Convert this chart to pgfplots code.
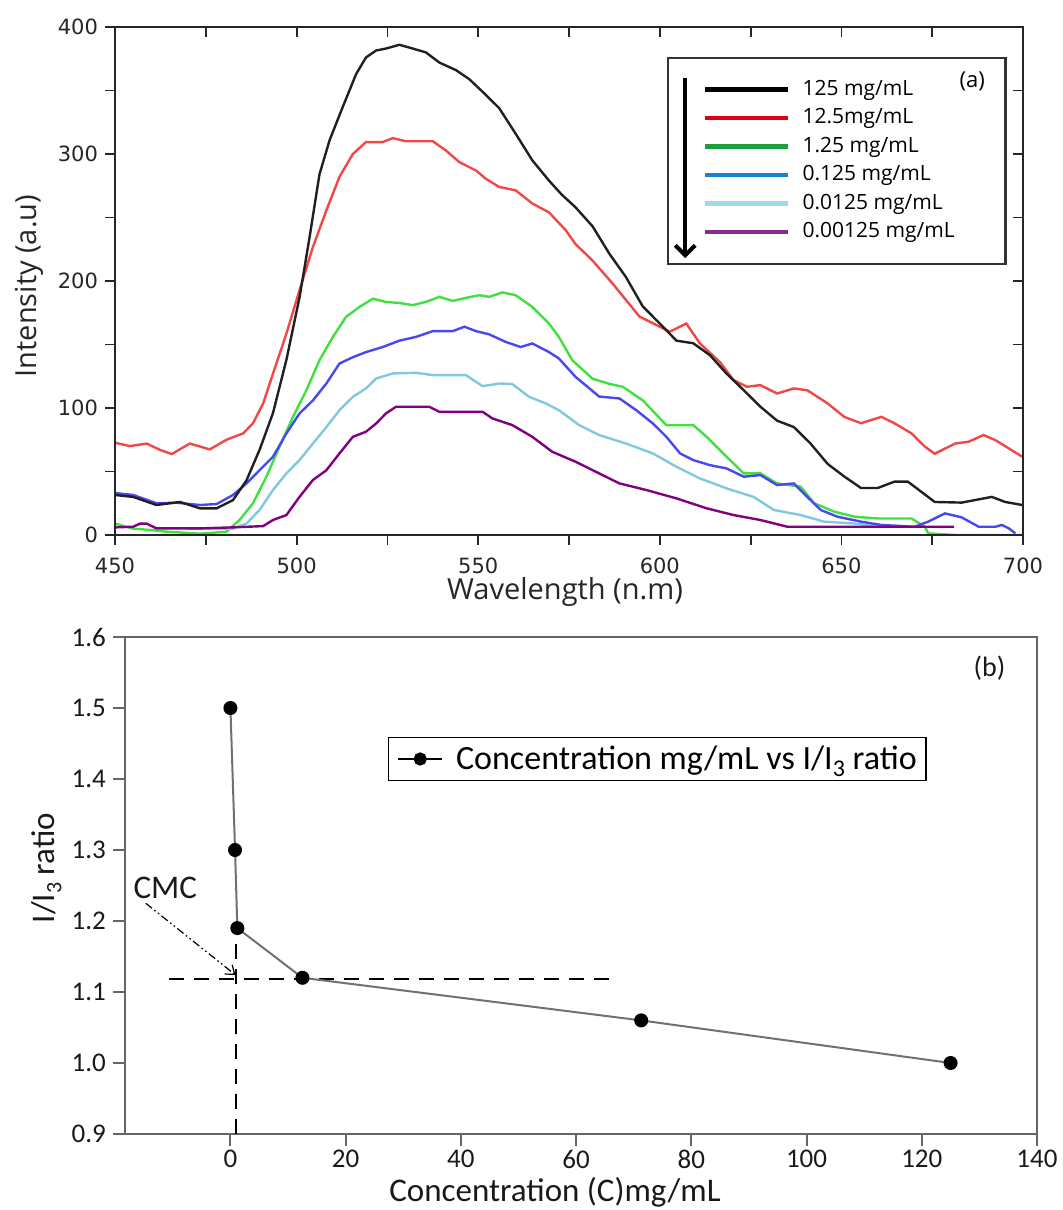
\documentclass[border=0pt]{standalone}
\usepackage{fontspec}
\usepackage{pgfplots}
\pgfplotsset{compat=1.18}
\usetikzlibrary{arrows.meta}
\newfontfamily\dejavu{DejaVu Sans}
\newfontfamily\osans{Open Sans}
\newfontfamily\carlito{Carlito}

\definecolor{cblack}{HTML}{202020}
\definecolor{cred}{HTML}{F04848}
\definecolor{cgreen}{HTML}{40E040}
\definecolor{cblue}{HTML}{4848F0}
\definecolor{clblue}{HTML}{80C8E0}
\definecolor{cpurple}{HTML}{800080}
% legend swatches are a bit different from the curves in the original
\definecolor{lred}{HTML}{E00010}
\definecolor{lgreen}{HTML}{1E9E3C}
\definecolor{lblue}{HTML}{1A80D0}
\definecolor{llblue}{HTML}{A0D8E8}
\definecolor{lpurple}{HTML}{8B2A8B}
\definecolor{ratioline}{HTML}{707070}

\begin{document}
\begin{tikzpicture}
\useasboundingbox (0,0) rectangle (531pt,605pt);

% ---------------- panel (a): emission spectra
\begin{axis}[
  at={(57.5pt,337.5pt)}, anchor=south west,
  width=454pt, height=254pt, scale only axis,
  xmin=450, xmax=700, ymin=0, ymax=400,
  xtick={450,500,...,700}, ytick={0,100,...,400},
  minor xtick={475,525,...,675}, minor ytick={50,150,...,350},
  xtick pos=left, ytick pos=left, tick align=outside,
  major tick length=5pt, minor tick length=5pt,
  tick style={black!85, line width=0.9pt},
  axis line style={black!85, line width=1pt},
  /pgf/number format/assume math mode=true,
  ticklabel style={font=\dejavu\fontsize{10.5}{12}\selectfont, text=black!85},
  xticklabel style={yshift=-3pt},
  xlabel={Wavelength (n.m)}, ylabel={Intensity (a.u)},
  label style={font=\osans\fontsize{14.5}{17}\selectfont, text=black!85, inner sep=0pt},
  xlabel style={at={(axis description cs:0.4956,-0.112)}, anchor=center},
  ylabel style={at={(axis description cs:-0.094,0.49)}, anchor=center},
  legend cell align=left,
  legend style={at={(rel axis cs:0.608,0.941)}, anchor=north west,
    draw=black!80, line width=1.1pt, fill=none,
    inner xsep=17.5pt, inner ysep=11pt, row sep=4.65pt,
    font=\osans\fontsize{10.5}{12}\selectfont,
    nodes={inner sep=0pt, text height=7.6pt, text depth=2pt},
    /tikz/every odd column/.append style={column sep=6pt}},
  legend image code/.code={\draw[#1, line width=2.2pt] (0pt,0pt) -- (41.5pt,0pt);},
]
\addlegendimage{black}\addlegendentry{\makebox[84pt][l]{125 mg/mL}}
\addlegendimage{lred}\addlegendentry{\makebox[84pt][l]{12.5mg/mL}}
\addlegendimage{lgreen}\addlegendentry{\makebox[84pt][l]{1.25 mg/mL}}
\addlegendimage{lblue}\addlegendentry{\makebox[84pt][l]{0.125 mg/mL}}
\addlegendimage{llblue}\addlegendentry{\makebox[84pt][l]{0.0125 mg/mL}}
\addlegendimage{lpurple}\addlegendentry{\makebox[84pt][l]{0.00125 mg/mL}}

% 1.25 mg/mL
\addplot[cgreen, line width=1.2pt, forget plot] coordinates {
(450,9)(455,5)(459.6,4)(464.2,2.6)(473.4,1)(480.7,2.6)(484.3,11.8)(488,25)
(491.7,46)(495.3,69.5)(499,93)(502.7,114)(506.3,137.6)(510,156)(513.6,171.7)
(517.3,179.6)(521,186)(524.6,183.5)(528.3,182.7)(532,181)(535.6,183.5)
(539.3,187.5)(543,184.3)(546.6,186.7)(550.3,188.8)(553,187.5)(556.7,191)
(560.3,188.8)(564.9,179.6)(569.5,166.5)(572.2,156)(575.9,137.6)(581.5,123)
(586.1,119)(589.8,116.7)(595.3,106)(601.8,86.5)(609.2,86.5)(612.9,77.3)
(618.4,61.6)(623.1,48.5)(627.7,48.5)(632.3,40.6)(638.8,38)(642.5,25)(648,18.4)
(653.6,14.4)(660,13)(669.3,13)(673,6.5)(673.9,1.3)(681.3,0)(700,0)
};
% 0.0125 mg/mL
\addplot[clblue, line width=1.2pt, forget plot] coordinates {
(470,5)(482.5,5)(486.2,9)(489.8,19.7)(493.5,35.4)(497.2,48.5)(500.8,59)(504.5,72)
(508.2,85)(511.8,98.3)(515.5,108.8)(519.1,115.4)(521.9,123.2)(526.5,127.2)
(532.9,127.7)(537.5,125.9)(546.6,125.9)(551.2,117.2)(555.8,119.3)(559.4,118.8)
(564,108.8)(568.6,103.6)(572.2,98.3)(577.8,86.5)(583.3,78.7)(590.7,72)
(598.1,64.2)(604.6,53.7)(611,44.6)(618.4,36.7)(625.8,30)(631.4,19.7)
(638.8,15.7)(645.2,10.5)(653.6,9)(661,6.5)
};
% 0.125 mg/mL
\addplot[cblue, line width=1.2pt, forget plot] coordinates {
(450,33)(455,31.5)(461.4,25)(467,25.4)(473.4,23.6)(478,24.4)(482.5,31.5)
(486.2,40.6)(489.8,51)(493.5,61.6)(497.2,80)(500.8,95.7)(504.5,106)(508.2,119.3)
(511.8,135)(515.5,140)(519.1,144)(523.7,148)(528.3,153)(532.9,156)(537.5,160.5)
(543,160.5)(546.2,164)(549.4,160.5)(553,158)(557.6,152)(561.7,148)(564.9,150.8)
(569.5,144)(572.2,139)(576.8,124.5)(583.3,109)(588.9,107.5)(593.5,98.3)
(598.1,87.8)(601.8,77.3)(605.6,64.2)(609.2,59)(613.8,55)(618.4,52.4)(623.1,45.9)
(627.7,47.2)(632.3,39.3)(636.9,40.6)(640.6,30)(644.3,19.7)(648.9,14.4)
(655.4,10.5)(661,7.9)(670.2,6.5)(673.9,10.5)(678.5,17)(683.1,13.9)(687.8,6.5)
(692.4,6.5)(694.2,7.9)(696.1,5.2)(697.9,1.3)
};
% 12.5 mg/mL
\addplot[cred, line width=1.2pt, forget plot] coordinates {
(450,72.6)(454.1,70)(458.7,72)(462.4,67)(465.6,63.7)(470.6,72)(476.1,67.4)
(480.7,75)(485.3,80)(488,88)(490.8,103.6)(493.5,127)(497.2,158.6)(500.8,192.7)
(504.5,226.8)(508.2,255.6)(511.8,282)(515.5,300)(519.1,309.4)(523.7,309.4)
(526.5,312.5)(530.1,310)(537.5,310)(541.1,302.8)(544.8,293.6)(549.4,287)
(552.1,280.5)(555.8,274)(560.3,271.4)(564.9,261)(569.5,254)(574.1,240)
(576.8,229)(581.5,216)(587,198)(590.7,185)(594.4,172)(600,164)(602.7,160)
(607.3,166.5)(611,151)(616.6,136)(620.3,122)(624,116.7)(627.7,118)(632.3,111.4)
(636.9,115.4)(640.6,114)(646.2,103.6)(650.8,93)(655.4,88)(661,93)(664.6,88)
(669.3,80)(673,69.5)(675.7,64)(681.3,72)(685,73.4)(689.1,78.7)(692.4,74.7)
(699.8,61.6)
};
% 125 mg/mL
\addplot[cblack, line width=1.2pt, forget plot] coordinates {
(450,31.5)(455,30)(461.4,23.6)(467.9,26)(473.4,21)(478,21)(482.5,27.5)
(486.2,43)(489.8,67)(493.5,96)(497.2,138)(500.8,187)(503.6,235)(506.3,284)
(509.1,311)(512.7,337)(516.4,363)(519.1,376)(521.9,381.5)(524.6,383)(528.3,386)
(532,383)(535.6,380)(539.3,372)(543.9,366)(547.5,359)(551.2,349)(555.8,336)
(560.3,316)(564.9,295)(569.5,279)(573,268)(576.8,258)(581.5,243)(586.1,221.5)
(590.7,203)(595.3,180)(600,166.5)(604.6,153)(609.2,151)(613.8,141.6)(618.4,127)
(623.1,114)(627.7,101)(632.3,90)(636.9,85)(641.5,72)(646.2,56)(650.8,46)
(655.4,37)(660,37)(664.6,42)(668.3,42)(672,34)(675.7,26)(683.1,25.5)
(686.8,27.5)(691.4,30)(695.1,26)(699.8,23.6)
};
% 0.00125 mg/mL
\addplot[cpurple, line width=1.2pt, forget plot] coordinates {
(450,6)(455,6.5)(456.9,9)(458.7,9)(461.4,5.2)(473.4,5.2)(482.5,6)(490.8,7)
(493.5,11.8)(497.2,15.7)(500.8,30)(504.5,43.3)(508.2,51)(511.8,64.2)(515.5,77.3)
(519.1,81.3)(521.9,87.8)(524.6,95.7)(527.4,101)(536.5,101)(539.3,97)(551.2,97)
(553.9,91.8)(559.4,86.5)(564.9,77.3)(570.4,65.5)(576.8,57.7)(583.3,48.5)
(588.9,40.6)(596.3,35.4)(604.6,28.8)(612.9,21)(620.3,15.7)(627.7,11.8)
(635.1,6.5)(681,6.5)
};

% arrow and panel tag inside the legend box
\draw[black, line width=2pt, -{Straight Barb[length=5pt,width=10pt]}]
  (rel axis cs:0.628,0.8996) -- (rel axis cs:0.628,0.545);
\node[font=\osans\fontsize{11}{13}\selectfont] at (rel axis cs:0.944,0.892) {(a)};
\end{axis}

% top/right ticks of panel (a) point inwards
\begin{axis}[
  at={(57.5pt,337.5pt)}, anchor=south west,
  width=454pt, height=254pt, scale only axis,
  xmin=450, xmax=700, ymin=0, ymax=400,
  xtick={450,500,...,700}, ytick={0,100,...,400},
  minor xtick={475,525,...,675}, minor ytick={50,150,...,350},
  xtick pos=right, ytick pos=right, tick align=inside,
  major tick length=5pt, minor tick length=5pt,
  tick style={black!85, line width=0.9pt},
  axis line style={black!85, line width=1pt},
  xticklabels={}, yticklabels={},
]
\end{axis}

% ---------------- panel (b): I/I3 ratio
\begin{axis}[
  at={(62.5pt,38pt)}, anchor=south west,
  width=456pt, height=248.5pt, scale only axis,
  xmin=-18.3, xmax=140, ymin=0.9, ymax=1.6,
  xtick={0,20,...,140}, ytick={0.9,1.0,1.1,1.2,1.3,1.4,1.5,1.6},
  xtick pos=left, ytick pos=left, tick align=outside,
  major tick length=6pt,
  tick style={black!60, line width=1pt},
  axis line style={black!60, line width=1.1pt},
  /pgf/number format/assume math mode=true,
  yticklabel style={/pgf/number format/.cd, fixed, fixed zerofill, precision=1},
  ticklabel style={font=\carlito\fontsize{13.5}{15}\selectfont, text=black!90},
  xticklabel style={inner sep=1pt, yshift=-1pt},
  xlabel={Concentration (C)mg/mL},
  ylabel={I/I\raisebox{-0.45ex}{\fontsize{11}{11}\selectfont 3} ratio},
  label style={font=\carlito\fontsize{16.5}{19}\selectfont, text=black!90, inner sep=0pt},
  xlabel style={at={(axis description cs:0.4715,-0.118)}, anchor=center},
  ylabel style={at={(axis description cs:-0.086,0.535)}, anchor=center},
  legend style={at={(rel axis cs:0.288,0.799)}, anchor=north west,
    draw=black, line width=0.8pt, fill=white,
    inner xsep=4.5pt, inner ysep=4pt,
    font=\carlito\fontsize{17}{20}\selectfont,
    nodes={inner sep=0pt},
    /tikz/every odd column/.append style={column sep=6.5pt}},
  legend image code/.code={
    \draw[black, line width=0.8pt] (0pt,0pt) -- (22pt,0pt);
    \fill[black] (11pt,0pt) circle (2.8pt);},
]
% CMC guide lines
\addplot[black, line width=0.8pt, dash pattern=on 7.5pt off 5pt, forget plot]
  coordinates {(-10.7,1.118)(66.3,1.118)};
\addplot[black, line width=0.8pt, dash pattern=on 7.5pt off 5pt, forget plot]
  coordinates {(1.0,0.9)(1.0,1.17)};
\addplot[ratioline, line width=1pt, mark=*, mark size=3pt,
  mark options={draw=black, fill=black}] coordinates {
  (0,1.50)(0.8,1.30)(1.2,1.19)(12.5,1.12)(71.3,1.06)(125,1.00)
};
\addlegendentry{Concentration mg/mL vs I/I\raisebox{-0.45ex}{\fontsize{12}{12}\selectfont 3} ratio}

\draw[black, line width=0.6pt, dash pattern=on 4pt off 1.5pt on 0.8pt off 1.5pt on 0.8pt off 1.5pt, -{Straight Barb[length=4pt,width=6pt]}]
  (axis cs:-14.7,1.225) -- (axis cs:0.87,1.124);
\node[font=\carlito\fontsize{16.5}{19}\selectfont, text=black!90] at (axis cs:-11.3,1.247) {CMC};
\node[font=\carlito\fontsize{14}{16}\selectfont, text=black!90] at (rel axis cs:0.948,0.9376) {(b)};
\end{axis}
\end{tikzpicture}
\end{document}
